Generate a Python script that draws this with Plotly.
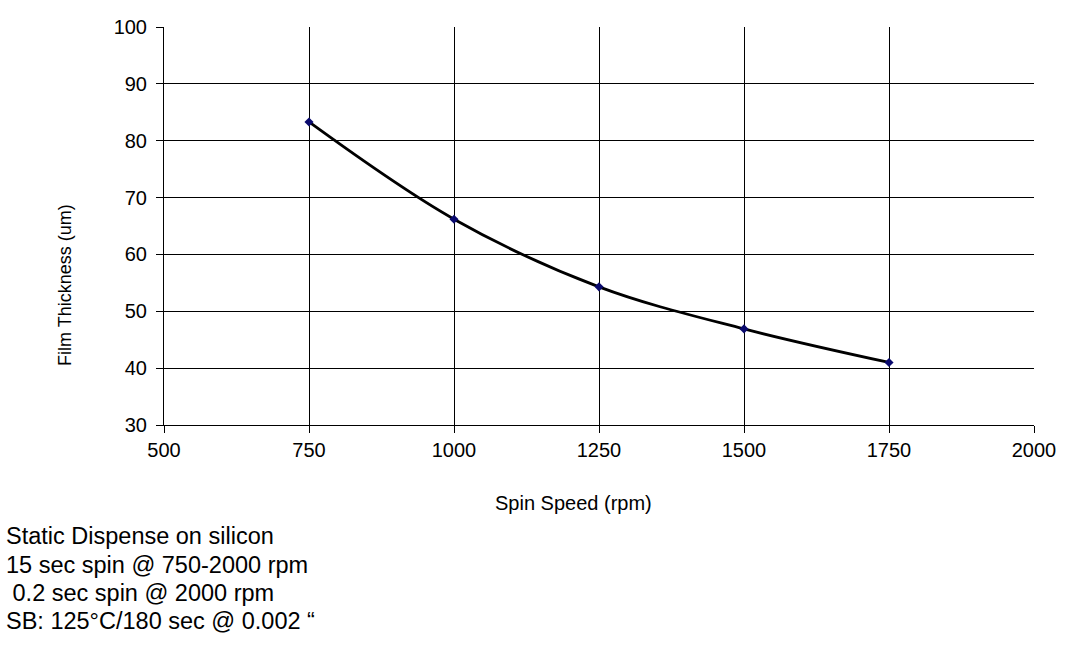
import plotly.graph_objects as go

spin_speed = [750, 1000, 1250, 1500, 1750]
thickness = [83.3, 66.2, 54.3, 46.9, 41.0]
x_ticks = [500, 750, 1000, 1250, 1500, 1750, 2000]
y_ticks = [30, 40, 50, 60, 70, 80, 90, 100]
x_title = "Spin Speed (rpm)"
y_title = "Film Thickness (um)"
notes = [
    "Static Dispense on silicon",
    "15 sec spin @ 750-2000 rpm",
    " 0.2 sec spin @ 2000 rpm",
    "SB: 125°C/180 sec @ 0.002 “",
]

FONT = "Liberation Sans, Arial, sans-serif"
L, T, PW, PH = 164, 27, 870, 398


def px(xp):
    return (xp - L) / PW


def py(yp):
    return 1 - (yp - T) / PH


fig = go.Figure()
fig.add_trace(go.Scatter(
    x=spin_speed, y=thickness, mode="lines+markers",
    line=dict(color="black", width=2.8, shape="spline", smoothing=1.0),
    marker=dict(symbol="diamond", size=7, color="#0a0a6e"),
    showlegend=False,
))

axis_common = dict(
    showgrid=True, gridcolor="black", gridwidth=1,
    showline=True, linecolor="black", linewidth=1,
    ticks="outside", ticklen=7, tickcolor="black",
    tickfont=dict(family=FONT, size=20, color="black"),
    zeroline=False,
)
fig.update_xaxes(range=[500, 2000], tickvals=x_ticks, **axis_common)
fig.update_yaxes(range=[30, 100], tickvals=y_ticks, ticklabelstandoff=5, **axis_common)

fig.add_annotation(text=x_title, xref="paper", yref="paper",
                   x=px(573), y=py(503), xanchor="center", yanchor="middle",
                   showarrow=False, font=dict(family=FONT, size=20, color="black"))
fig.add_annotation(text=y_title, xref="paper", yref="paper", textangle=-90,
                   x=px(65), y=py(285), xanchor="center", yanchor="middle",
                   showarrow=False, font=dict(family=FONT, size=18, color="black"))

line_y = [536, 565, 593, 621]
for txt, yp in zip(notes, line_y):
    fig.add_annotation(
        text=txt.replace(" ", "&nbsp;") if txt.startswith(" ") else txt,
        xref="paper", yref="paper",
        x=px(4), y=py(yp),
        xanchor="left", yanchor="middle", showarrow=False,
        font=dict(family=FONT, size=23.5, color="black"),
    )

fig.update_layout(
    width=1074, height=652,
    margin=dict(l=L, r=1074 - L - PW, t=T, b=652 - T - PH),
    plot_bgcolor="white", paper_bgcolor="white",
)

fig.write_html("out.html")
